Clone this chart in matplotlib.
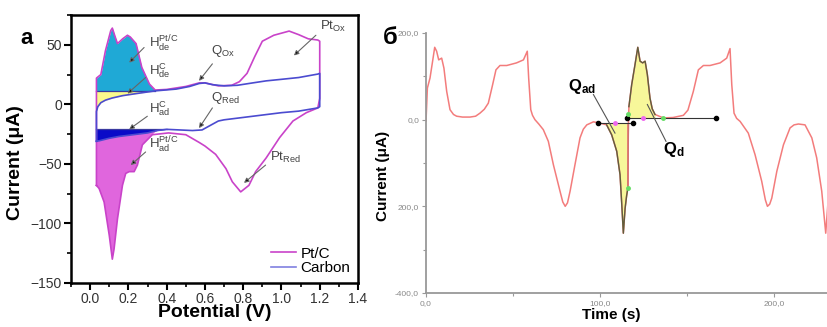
import numpy as np
import matplotlib.pyplot as plt
from matplotlib.ticker import MultipleLocator

plt.rcParams['font.family'] = ['Liberation Sans', 'DejaVu Sans']
plt.rcParams['mathtext.fontset'] = 'custom'
plt.rcParams['mathtext.rm'] = 'Liberation Sans'
plt.rcParams['mathtext.bf'] = 'Liberation Sans:bold'
plt.rcParams['mathtext.it'] = 'Liberation Sans:italic'

# ---- panel a: CV curves (potential V, current uA) ----
pt_v_an = [0.033, 0.033, 0.056, 0.08, 0.108, 0.116, 0.13, 0.143, 0.17, 0.195, 0.21, 0.24,
           0.27, 0.31, 0.34, 0.4, 0.5, 0.57, 0.6, 0.67, 0.74, 0.78, 0.82, 0.86, 0.9, 0.96,
           1.04, 1.09, 1.14, 1.19, 1.2]
pt_i_an = [-68, 22, 25, 45, 62, 64, 57, 51, 55, 58, 56.5, 51,
           31, 17, 12, 12.5, 15, 18, 18, 15.5, 16, 19, 26, 40, 53, 58,
           61.5, 58.5, 55, 54, 53]
pt_v_ca = [1.2, 1.2, 1.19, 1.13, 1.06, 0.99, 0.92, 0.865, 0.83, 0.787, 0.743, 0.71,
           0.656, 0.6, 0.57, 0.5, 0.41, 0.325, 0.273, 0.247, 0.23, 0.204, 0.186, 0.169,
           0.143, 0.125, 0.116, 0.1, 0.073, 0.047, 0.033]
pt_i_ca = [53, 5, -3, -7, -14, -28, -45, -56.5, -68, -73.5, -65, -54,
           -42, -35, -32, -25.5, -24, -25.5, -34, -51, -56.5, -56.5, -58, -68,
           -96, -121.5, -130, -110, -82, -70.7, -68]
c_v_an = [0.033, 0.033, 0.04, 0.056, 0.08, 0.115, 0.17, 0.24, 0.34, 0.45, 0.52, 0.57,
          0.6, 0.64, 0.7, 0.77, 0.85, 0.92, 1.0, 1.09, 1.19, 1.2]
c_i_an = [-31, -6, -2, 1.4, 3.5, 5.3, 7.3, 9, 11.3, 12.8, 15, 17.5,
          18, 16.5, 15.5, 16, 18, 19.7, 21, 22.5, 25.4, 26]
c_v_ca = [1.2, 1.2, 1.19, 1.09, 1.0, 0.9, 0.8, 0.7, 0.67, 0.62, 0.585, 0.535,
          0.4, 0.35, 0.3, 0.2, 0.15, 0.1, 0.05, 0.033]
c_i_ca = [26, -2, -3, -5.7, -7, -9, -11, -13, -14, -18.4, -21.5, -22,
          -21, -22, -24, -26, -27, -28.5, -30.5, -31]
h_de_base = 11.3
h_ad_base = -20.6

# annotation labels for panel a: (text, text pos, arrow tail, arrow tip)
cv_labels = [r'$\mathregular{H_{de}^{Pt/C}}$', r'$\mathregular{H_{de}^{C}}$',
             r'$\mathregular{Q_{Ox}}$', r'$\mathregular{Q_{Red}}$',
             r'$\mathregular{H_{ad}^{C}}$', r'$\mathregular{H_{ad}^{Pt/C}}$',
             r'$\mathregular{Pt_{Ox}}$', r'$\mathregular{Pt_{Red}}$']
cv_text_xy = [(0.31, 51), (0.31, 28), (0.63, 45), (0.63, 5),
              (0.31, -4), (0.31, -34), (1.2, 65), (0.94, -45)]
cv_tail = [(0.282, 47.7), (0.29, 22.5), (0.639, 34), (0.639, -3),
           (0.299, -10), (0.29, -40), (1.18, 58), (0.917, -51)]
cv_tip = [(0.204, 35), (0.195, 9), (0.569, 19.7), (0.569, -20),
          (0.204, -21), (0.212, -51), (1.065, 41), (0.804, -66)]

# ---- panel b: current transient (time s, current uA) ----
t_s = [0.0, 0.8, 2.3, 3.8, 5.0, 6.1, 7.3, 9.0, 10.3, 11.9, 13.8, 15.8, 17.6, 21.0,
       25.3, 28.5, 31.0, 33.5, 35.8, 38.3, 40.2, 42.5, 46.4, 52.0, 56.0, 58.2, 59.0,
       60.2, 61.2, 62.6, 64.8, 67.4, 70.3, 73.2, 77.0, 78.6, 80.0, 81.3, 82.8, 85.6,
       88.5, 90.4, 92.4, 96.2, 100.0, 103.8, 106.7, 109.6, 111.5, 112.5, 113.4, 114.4,
       115.3, 116.0, 116.3, 116.6, 118.2, 120.1, 121.7, 123.0, 124.5, 125.9, 127.2,
       128.7, 130.0, 131.6, 136.4, 142.0, 147.9, 150.5, 153.6, 156.5, 159.4, 163.2,
       169.0, 172.8, 174.7, 175.7, 177.0, 178.5, 180.5, 185.2, 189.1, 192.9, 195.0,
       196.2, 197.5, 198.7, 201.6, 205.4, 209.2, 211.5, 214.0, 217.8, 221.7, 224.5,
       227.4, 229.7, 230.9]
cur = [-4, 73, 96, 135, 167, 158, 138, 142, 119, 65, 23, 12, 8, 6,
       6, 8, 15, 24, 38, 81, 115, 125, 125, 131, 138, 158, 96,
       23, 10, 0, -10, -23, -50, -104, -165, -190, -200, -192, -165, -104,
       -42, -22, -12, -5, -8, -12, -35, -73, -127, -196, -262, -205,
       -175, -158, -10, 30, 81, 127, 167, 135, 131, 135, 104,
       50, 25, 12, 4, 5, 10, 22, 65, 115, 125, 125,
       131, 142, 164, 81, 15, 3, -4, -31, -81, -142, -185,
       -200, -195, -181, -119, -58, -19, -12, -10, -12, -42, -88,
       -165, -262, -196]
q_ad_t = [98.7, 118.8]
q_ad_i = [-8, -8]
q_d_t = [115.3, 166.5]
q_d_i = [4, 4]
q_ad_range = (103.8, 116.3)
q_d_range = (116.6, 131.6)

fig = plt.figure(figsize=(8.28, 3.27), dpi=100)

# ================= panel a =================
ax = fig.add_axes([71 / 828, 44 / 327, 287 / 828, 268 / 327])
pv_an, pi_an = np.array(pt_v_an), np.array(pt_i_an)
pv_ca, pi_ca = np.array(pt_v_ca), np.array(pt_i_ca)
cv_an, ci_an = np.array(c_v_an), np.array(c_i_an)
cv_ca, ci_ca = np.array(c_v_ca), np.array(c_i_ca)

m = (pv_an <= 0.34) & (pi_an >= h_de_base)
ax.fill_between(pv_an[m], pi_an[m], h_de_base, color='#1fa9d6', lw=0)
m = (cv_an <= 0.34) & (ci_an > -7)
ax.fill_between(cv_an[m], ci_an[m], h_de_base, color='#fafa8c', lw=0)
m = cv_ca <= 0.4
ax.fill_between(cv_ca[m], ci_ca[m], h_ad_base, color='#0a0ac8', lw=0)
mp = pv_ca <= 0.33
mc = cv_ca <= 0.35
poly_v = np.concatenate([pv_ca[mp], cv_ca[mc][::-1]])
poly_i = np.concatenate([pi_ca[mp], ci_ca[mc][::-1]])
ax.fill(poly_v, poly_i, color='#e066dd', lw=0)

ax.plot([0.033, 0.34], [h_de_base, h_de_base], color='#3a3aa0', lw=0.9)
ax.plot([0.033, 0.4], [h_ad_base, h_ad_base], color='#3a3aa0', lw=0.9)
ax.plot(np.concatenate([pv_an, pv_ca]), np.concatenate([pi_an, pi_ca]),
        color='#c943c9', lw=1.2)
ax.plot(np.concatenate([cv_an, cv_ca]), np.concatenate([ci_an, ci_ca]),
        color='#4b4bd0', lw=1.2)
ax.plot([], [], color='#c943c9', lw=1.2, label='Pt/C')
ax.plot([], [], color='#8080e0', lw=1.2, label='Carbon')

for lab, txy, tail, tip in zip(cv_labels, cv_text_xy, cv_tail, cv_tip):
    ax.text(txy[0], txy[1], lab, fontsize=9.5, color='#444444', va='center', ha='left')
    ax.annotate('', xy=tip, xytext=tail,
                arrowprops=dict(arrowstyle='-|>', color='#666666', fc='black',
                                lw=0.8, mutation_scale=7, shrinkA=0, shrinkB=0))

ax.set_xlim(-0.1, 1.4)
ax.set_ylim(-150, 75)
ax.xaxis.set_major_locator(MultipleLocator(0.2))
ax.xaxis.set_minor_locator(MultipleLocator(0.1))
ax.yaxis.set_major_locator(MultipleLocator(50))
ax.yaxis.set_minor_locator(MultipleLocator(25))
ax.xaxis.set_major_formatter(plt.FuncFormatter(lambda v, p: f'{v:.1f}'))
for s in ax.spines.values():
    s.set_linewidth(1.8)
ax.tick_params(which='major', direction='out', length=5, width=1.5, labelsize=10,
               labelcolor='#333333', pad=1.5)
ax.tick_params(which='minor', direction='out', length=3, width=1.2)
ax.set_xlabel('Potential (V)', fontsize=14, fontweight='bold')
ax.set_ylabel('Current (μA)', fontsize=14, fontweight='bold')
ax.xaxis.set_label_coords(0.5, -0.08)
ax.yaxis.set_label_coords(-0.165, 0.45)
ax.legend(loc='lower right', frameon=False, fontsize=11, handlelength=1.6,
          labelspacing=0.05, borderaxespad=0.1, handletextpad=0.3)
fig.text(27 / 828, 1 - 38 / 327, 'a', fontsize=16, fontweight='bold',
         ha='center', va='center')

# ================= panel b =================
bx = fig.add_axes([426 / 828, 34 / 327, 402 / 828, 260 / 327])
tt, cc = np.array(t_s), np.array(cur)
bx.plot(tt, cc, color='#f37c7c', lw=1.1, zorder=2)

m = (tt >= q_ad_range[0]) & (tt <= q_ad_range[1])
bx.fill_between(tt[m], cc[m], q_ad_i[0], color='#f7f79a', lw=0, zorder=1)
bx.plot(tt[m], cc[m], color='#5f5f3c', lw=1.0, zorder=3)
m = (tt >= q_d_range[0]) & (tt <= q_d_range[1])
bx.fill_between(tt[m], cc[m], q_d_i[0], color='#f7f79a', lw=0, zorder=1)
bx.plot(tt[m], cc[m], color='#5f5f3c', lw=1.0, zorder=3)
bx.plot([116.3, 116.3], [-158, -10], color='#f37c7c', lw=1.1, zorder=3)

bx.plot(q_ad_t, q_ad_i, color='#333333', lw=0.8, marker='o', ms=3, mfc='black',
        mec='black', zorder=4)
bx.plot(q_d_t, q_d_i, color='#333333', lw=0.8, marker='o', ms=3, mfc='black',
        mec='black', zorder=4)
bx.plot([108.7, 124.5], [-8, 4], ls='none', marker='o', ms=2.5, color='#ee66ee', zorder=5)
bx.plot([116.0, 116.3, 136.0], [-158, 12, 4], ls='none', marker='o', ms=2.5,
        color='#66dd66', zorder=5)

bx.plot([96.2, 108.6], [58, -31], color='#555555', lw=0.8, zorder=4)
bx.plot([137.9, 127.2], [-50, 35], color='#555555', lw=0.8, zorder=4)
bx.text(89.5, 77, r'$\mathbf{Q_{ad}}$', fontsize=12, ha='center', va='center')
bx.text(142.1, -69, r'$\mathbf{Q_{d}}$', fontsize=12, ha='center', va='center')

bx.set_xlim(0, 231)
bx.set_ylim(-400, 200)
bx.set_xticks([0, 100, 200])
bx.set_xticklabels(['0,0', '100,0', '200,0'])
bx.set_yticks([-400, -200, 0, 200])
bx.set_yticklabels(['-400,0', '200,0', '0,0', '200,0'])
bx.xaxis.set_minor_locator(MultipleLocator(50))
bx.yaxis.set_minor_locator(MultipleLocator(100))
for k in ['top', 'right']:
    bx.spines[k].set_visible(False)
for k in ['left', 'bottom']:
    bx.spines[k].set_color('#999999')
    bx.spines[k].set_linewidth(1.3)
bx.tick_params(which='both', color='#999999', length=3, width=0.8, labelsize=6,
               labelcolor='#888888', pad=2)
bx.tick_params(which='minor', length=2)
bx.set_xlabel('Time (s)', fontsize=11, fontweight='bold')
bx.set_ylabel('Current (μA)', fontsize=11, fontweight='bold')
bx.xaxis.set_label_coords(0.46, -0.058)
bx.yaxis.set_label_coords(-0.09, 0.45)
fig.text(390 / 828, 1 - 38 / 327, 'б', fontsize=17, fontweight='bold',
         ha='center', va='center')

fig.savefig('out.png', dpi=100)
